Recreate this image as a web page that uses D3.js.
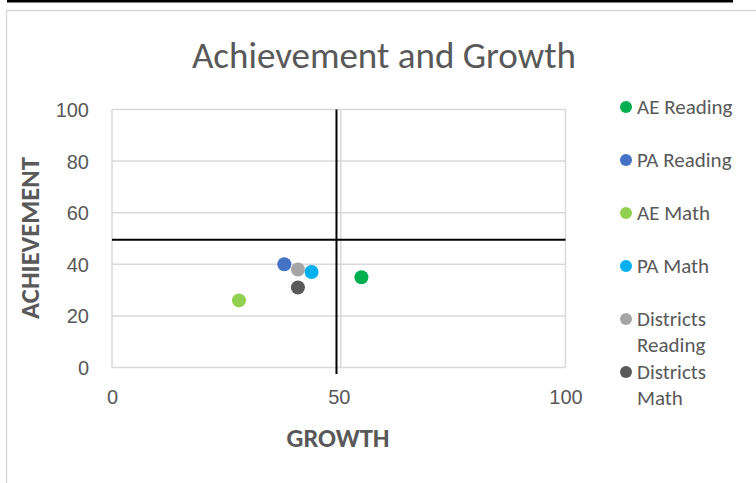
<!DOCTYPE html>
<html>
<head>
<meta charset="utf-8">
<script src="https://cdn.jsdelivr.net/npm/d3@7"></script>
<style>
  body { margin: 0; background: #fff; }
  svg { font-family: Calibri, Carlito, Lato, sans-serif; }
</style>
</head>
<body>
<svg id="chart" width="756" height="483"></svg>
<script>
// series names, colours and values (growth, achievement)
const seriesNames = ['AE Reading', 'PA Reading', 'AE Math', 'PA Math', 'Districts Reading', 'Districts Math'];
const seriesColors = ['#00B050', '#4472C4', '#92D050', '#00B0F0', '#A5A5A5', '#595959'];
const growth = [55, 38, 28, 44, 41, 41];
const achievement = [35, 40, 26, 37, 38, 31];

// reference lines
const vLine = [[49.5, -2.5], [49.5, 100]];
const hLine = [[0, 49.5], [100, 49.5]];

const xTicks = [0, 50, 100];
const yTicks = [0, 20, 40, 60, 80, 100];

const svg = d3.select('#chart');
const textCol = '#595959';

// black rule on top and the chart border
svg.append('line').attr('x1', 7).attr('x2', 733).attr('y1', 1).attr('y2', 1)
	.attr('stroke', '#000').attr('stroke-width', 3);
svg.append('path').attr('d', 'M756,10.5H6.5V483')
	.attr('fill', 'none').attr('stroke', '#d9d9d9').attr('stroke-width', 1.5);

const x = d3.scaleLinear().domain([0, 100]).range([112, 565.5]);
const y = d3.scaleLinear().domain([0, 100]).range([367.5, 109.5]);

// gridlines
svg.append('g').selectAll('line').data(yTicks).join('line')
	.attr('x1', x(0)).attr('x2', x(100))
	.attr('y1', d => y(d)).attr('y2', d => y(d))
	.attr('stroke', '#d9d9d9').attr('stroke-width', 1.5);
svg.append('g').selectAll('line').data(xTicks).join('line')
	.attr('y1', y(0)).attr('y2', y(100))
	.attr('x1', d => x(d) + (d == 50 ? 2 : 0)).attr('x2', d => x(d) + (d == 50 ? 2 : 0))
	.attr('stroke', '#d9d9d9').attr('stroke-width', 1.5);

// axes labels
const xAxis = d3.axisBottom(x).tickValues(xTicks).tickSize(0).tickPadding(22);
const gx = svg.append('g').attr('transform', `translate(0,${y(0)})`).call(xAxis);
const yAxis = d3.axisLeft(y).tickValues(yTicks).tickSize(0).tickPadding(23);
const gy = svg.append('g').attr('transform', `translate(${x(0)},0)`).call(yAxis);
[gx, gy].forEach(g => {
	g.select('.domain').remove();
	g.selectAll('text').attr('fill', textCol).style('font-size', '20px').style('font-family', null);
});
gy.selectAll('text').attr('dy', '0.35em');

// reference lines
const line = d3.line().x(d => x(d[0])).y(d => y(d[1]));
[vLine, hLine].forEach(l => {
	svg.append('path').attr('d', line(l)).attr('stroke', '#000').attr('stroke-width', 2).attr('fill', 'none');
});

// points
svg.append('g').selectAll('circle').data(seriesNames).join('circle')
	.attr('cx', (d, i) => x(growth[i]))
	.attr('cy', (d, i) => y(achievement[i]))
	.attr('r', 7)
	.attr('fill', (d, i) => seriesColors[i]);

// title
svg.append('text').attr('x', 384).attr('y', 68).attr('text-anchor', 'middle')
	.attr('fill', textCol).style('font-size', '37px').text('Achievement and Growth');

// axis titles
svg.append('text').attr('x', 338).attr('y', 447).attr('text-anchor', 'middle')
	.attr('fill', textCol).style('font-size', '26.5px').style('font-weight', 'bold').text('GROWTH');
svg.append('text').attr('transform', 'translate(39,238) rotate(-90)').attr('text-anchor', 'middle')
	.attr('fill', textCol).style('font-size', '26.5px').style('font-weight', 'bold').text('ACHIEVEMENT');

// legend
const legendY = [107, 160, 213, 266, 319, 372];
const legend = svg.append('g').selectAll('g').data(seriesNames).join('g')
	.attr('transform', (d, i) => `translate(626,${legendY[i]})`);
legend.append('circle').attr('r', 6).attr('fill', (d, i) => seriesColors[i]);
legend.append('text').attr('x', 11).attr('fill', textCol).style('font-size', '21px')
	.each(function(d) {
		const words = d.startsWith('Districts') ? d.split(' ') : [d];
		d3.select(this).selectAll('tspan').data(words).join('tspan')
			.attr('x', 11).attr('dy', (w, j) => j == 0 ? '0.35em' : '26px').text(w => w);
	});
</script>
</body>
</html>
